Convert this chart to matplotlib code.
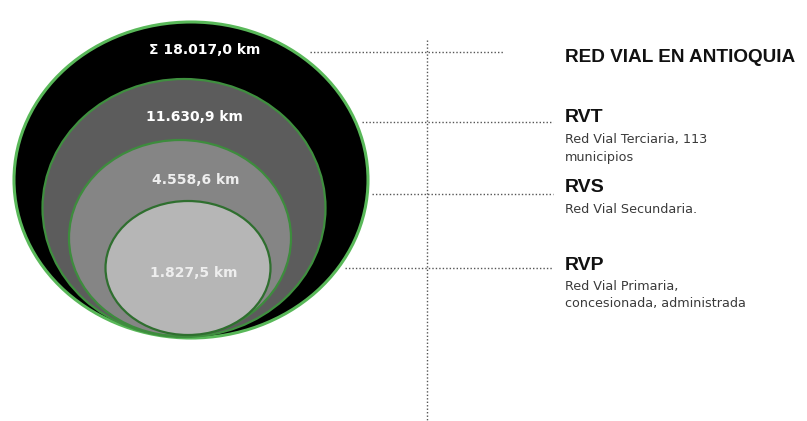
import matplotlib.pyplot as plt
from matplotlib.patches import Ellipse

# datos
valores_km = [18017.0, 11630.9, 4558.6, 1827.5]
codigos = ["RED VIAL EN ANTIOQUIA", "RVT", "RVS", "RVP"]
descripciones = ["", "Red Vial Terciaria, 113\nmunicipios", "Red Vial Secundaria.",
                 "Red Vial Primaria,\nconcesionada, administrada"]

# geometria (pixeles de la figura)
centros = [(191, 180), (184, 208), (180, 238), (188, 268)]
tamanos = [(354, 316), (283, 258), (222, 196), (165, 134)]
rellenos = ["#000000", "#5c5c5c", "#858585", "#b6b6b6"]
bordes = ["#59b859", "#3f8f3f", "#3d8c3d", "#2f6f2f"]
pos_valor = [(205, 50), (194, 117), (196, 180), (194, 273)]
y_linea = [52, 122, 194, 268]
x_inicio = [310, 362, 372, 345]
x_fin = [503, 553, 553, 553]
y_codigo = [58, 118, 188, 265]


def fmt_km(v):
    s = f"{v:,.1f}".replace(",", "X").replace(".", ",").replace("X", ".")
    return s + " km"


fig = plt.figure(figsize=(8.07, 4.21), dpi=100)
ax = fig.add_axes([0, 0, 1, 1])
ax.set_xlim(0, 807)
ax.set_ylim(421, 0)
ax.axis('off')
plt.rcParams['font.family'] = ['Liberation Sans', 'DejaVu Sans']

for i in range(len(valores_km)):
    e = Ellipse(centros[i], tamanos[i][0], tamanos[i][1], facecolor=rellenos[i],
                edgecolor=bordes[i], lw=2.2 if i == 0 else 1.6, zorder=1 + i)
    ax.add_patch(e)
    txt = fmt_km(valores_km[i])
    if i == 0:
        txt = "Σ " + txt
    ax.text(pos_valor[i][0], pos_valor[i][1], txt, color="white" if i < 2 else "#eeeeee",
            fontsize=10, fontweight="bold", family="DejaVu Sans",
            ha="center", va="center", zorder=10)

    # lineas punteadas
    ax.plot([x_inicio[i], x_fin[i]], [y_linea[i], y_linea[i]], ls=(0, (1, 1.5)),
            color="#555555", lw=1, zorder=0)

    # textos a la derecha
    ax.text(565, y_codigo[i], codigos[i], fontsize=13.7 if i == 0 else 14,
            fontweight="bold", color="#111111", ha="left", va="center")
    if descripciones[i]:
        ax.text(565, y_codigo[i] + 15, descripciones[i], fontsize=9.2, color="#3a3a3a",
                family="DejaVu Sans", ha="left", va="top", linespacing=1.45)

# linea vertical
ax.plot([427, 427], [40, 421], ls=(0, (1, 1.5)), color="#555555", lw=1, zorder=0)

fig.savefig("out.png", dpi=100)
